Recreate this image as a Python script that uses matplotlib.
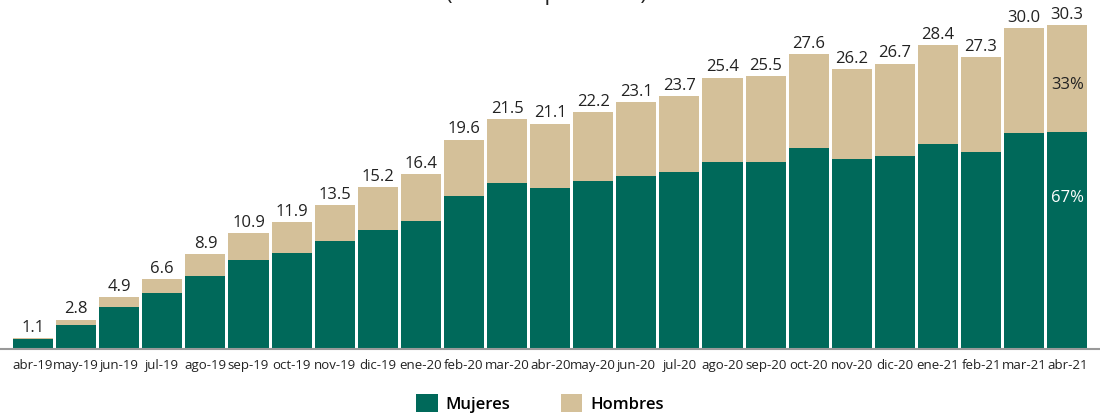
import matplotlib.pyplot as plt
import numpy as np

plt.rcParams['font.family'] = ['Open Sans', 'DejaVu Sans']

# Monthly totals (labels above bars) and the women's part of each bar
meses = ["abr-19", "may-19", "jun-19", "jul-19", "ago-19", "sep-19", "oct-19",
         "nov-19", "dic-19", "ene-20", "feb-20", "mar-20", "abr-20", "may-20",
         "jun-20", "jul-20", "ago-20", "sep-20", "oct-20", "nov-20", "dic-20",
         "ene-21", "feb-21", "mar-21", "abr-21"]
totales = [1.1, 2.8, 4.9, 6.6, 8.9, 10.9, 11.9, 13.5, 15.2, 16.4, 19.6, 21.5,
           21.1, 22.2, 23.1, 23.7, 25.4, 25.5, 27.6, 26.2, 26.7, 28.4, 27.3,
           30.0, 30.3]
mujeres = [0.95, 2.3, 3.95, 5.25, 6.9, 8.35, 9.05, 10.1, 11.2, 12.0, 14.35,
           15.55, 15.1, 15.75, 16.2, 16.6, 17.55, 17.5, 18.85, 17.8, 18.1,
           19.2, 18.45, 20.25, 20.3]
pct_mujeres = "67%"
pct_hombres = "33%"

verde = "#00695A"
beige = "#D4C099"

x = np.arange(len(meses))
totales = np.array(totales)
mujeres = np.array(mujeres)
hombres = totales - mujeres

fig = plt.figure(figsize=(11, 4.14), dpi=100)
ax = fig.add_axes([0.0, 0.1534, 1.0, 0.8406])

ax.bar(x, mujeres, width=0.93, color=verde, label="Mujeres")
ax.bar(x, hombres, bottom=mujeres, width=0.93, color=beige, label="Hombres")

for xi, t in zip(x, totales):
    ax.text(xi, t + 0.3, f"{t:.1f}", ha="center", va="bottom",
            fontsize=12, color="#222222")

ax.text(x[-1], 24.8, pct_hombres, ha="center", va="center",
        fontsize=12, color="#222222")
ax.text(x[-1], 14.2, pct_mujeres, ha="center", va="center",
        fontsize=12, color="white")

ax.set_xlim(-0.766, 24.76)
ax.set_ylim(0, 32.5)
ax.set_xticks(x)
ax.set_xticklabels(meses, fontsize=9.5, color="#222222")
ax.tick_params(axis="x", length=0, pad=6)
ax.set_yticks([])
for s in ["top", "right", "left"]:
    ax.spines[s].set_visible(False)
ax.spines["bottom"].set_color("#999999")
ax.spines["bottom"].set_linewidth(1.5)

# title sits above the visible area in the original, only its descenders show
fig.text(0.497, 1.0, "(Miles de personas)", ha="center", va="baseline",
         fontsize=16, color="#222222")

fig.legend(loc="lower center", bbox_to_anchor=(0.491, -0.035), ncol=2,
           frameon=False, handlelength=1.3, handleheight=1.3,
           columnspacing=3.0, handletextpad=0.5,
           prop={"size": 12, "weight": "semibold"})

fig.savefig("out.png", dpi=100)
